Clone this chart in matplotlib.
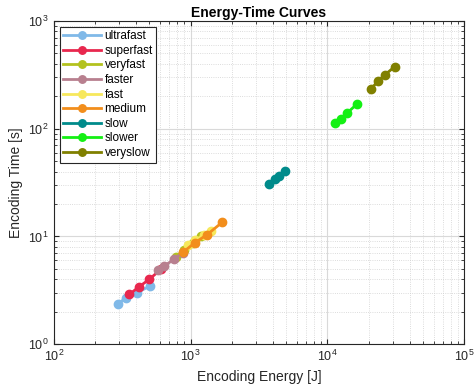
import matplotlib
matplotlib.use('Agg')
import matplotlib.pyplot as plt

plt.rcParams['font.family'] = ['Liberation Sans', 'DejaVu Sans']

presets = ['ultrafast', 'superfast', 'veryfast', 'faster', 'fast',
           'medium', 'slow', 'slower', 'veryslow']
colors = ['#80b9e8', '#e8284e', '#b3c21e', '#b8808f', '#f7e85c',
          '#f28e1c', '#008b8b', '#14f014', '#808000']

# energy [J] and time [s] per preset
energy = [
    [294, 340, 406, 504],
    [356, 421, 498, 606],
    [780, 900, 1050, 1200],
    [577, 638, 755, 878],
    [960, 1080, 1250, 1400],
    [883, 1074, 1321, 1710],
    [3758, 4137, 4449, 4897],
    [11370, 12500, 13980, 16550],
    [20850, 23560, 26370, 31190],
]
time = [
    [2.38, 2.71, 3.01, 3.47],
    [2.90, 3.42, 4.00, 4.95],
    [6.5, 7.5, 8.7, 10.0],
    [4.9, 5.31, 6.12, 7.1],
    [8.3, 9.2, 10.3, 11.3],
    [7.16, 8.74, 10.4, 13.6],
    [30.9, 34.2, 36.7, 40.8],
    [113, 123, 140, 170],
    [233, 278, 316, 377],
]

fig = plt.figure(figsize=(4.76, 3.86), dpi=100)
ax = fig.add_axes([0.113, 0.108, 0.862, 0.838])

for name, c, e, t in zip(presets, colors, energy, time):
    ax.plot(e, t, '-o', color=c, lw=2, ms=6, label=name)

ax.set_xscale('log')
ax.set_yscale('log')
ax.set_xlim(1e2, 1e5)
ax.set_ylim(1e0, 1e3)

ax.grid(True, which='major', color='#d9d9d9', lw=0.8, ls='-')
ax.grid(True, which='minor', color='#d0d0d0', lw=0.6, ls=':')
ax.set_axisbelow(True)
ax.tick_params(which='both', direction='in', top=True, right=True,
               labelsize=9, colors='#262626')
for s in ax.spines.values():
    s.set_color('#262626')
    s.set_linewidth(0.8)

ax.set_xlabel('Encoding Energy [J]', fontsize=10, color='#262626')
ax.set_ylabel('Encoding Time [s]', fontsize=10, color='#262626')
ax.set_title('Energy-Time Curves', fontsize=10, fontweight='bold', pad=3)

leg = ax.legend(loc='upper left', fontsize=8.5, fancybox=False,
                edgecolor='#262626', framealpha=1, handlelength=3.2,
                handletextpad=0.3, labelspacing=0.22, borderpad=0.3,
                borderaxespad=0.5, markerscale=0.9)
leg.get_frame().set_linewidth(0.8)

fig.savefig('out.png', dpi=100)
